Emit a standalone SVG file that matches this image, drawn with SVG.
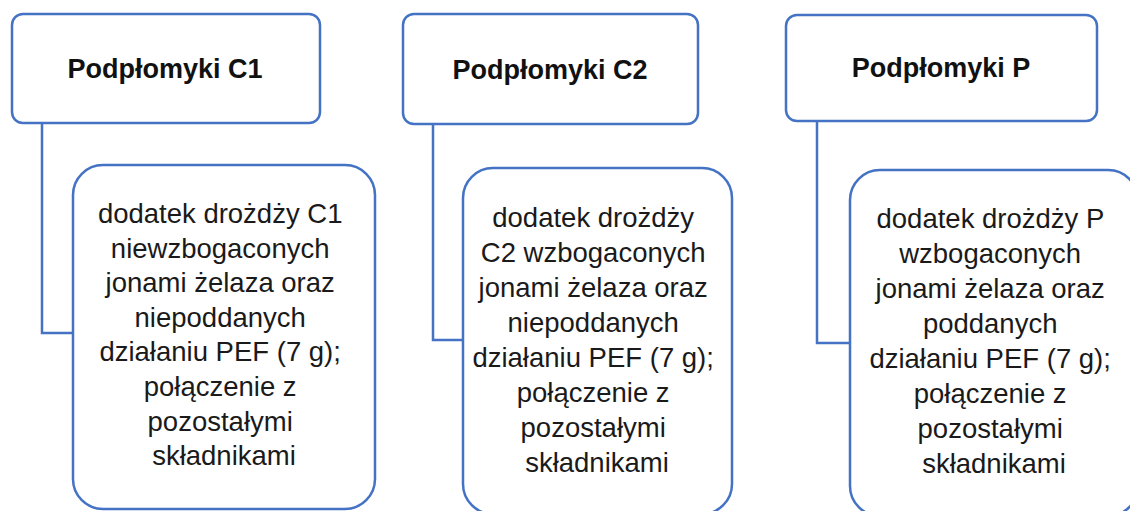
<svg xmlns="http://www.w3.org/2000/svg" width="1130" height="511" viewBox="0 0 1130 511">
<style>
.box{fill:#fff;stroke:#4472C4;stroke-width:2.5}
.conn{fill:none;stroke:#4472C4;stroke-width:2.5}
.title{font-family:"Liberation Sans",Arial,sans-serif;font-weight:bold;font-size:27px;fill:#111;text-anchor:middle}
.body{font-family:"Liberation Sans",Arial,sans-serif;font-size:27.5px;fill:#1a1a1a;text-anchor:middle}
</style>
<rect width="1130" height="511" fill="#fff"/>
<g id="connectors">
<path class="conn" d="M42,123 V333 H73"/>
<path class="conn" d="M433,124 V340 H463"/>
<path class="conn" d="M817,121 V343 H850"/>
</g>
<g id="node-c1">
<rect class="box" x="12" y="14" width="308" height="109" rx="11"/>
<text class="title" x="165" y="78">Podpłomyki C1</text>
</g>
<g id="node-c2">
<rect class="box" x="403" y="14" width="295" height="110" rx="11"/>
<text class="title" x="550" y="79">Podpłomyki C2</text>
</g>
<g id="node-p">
<rect class="box" x="786" y="15" width="311" height="106" rx="11"/>
<text class="title" x="941" y="77">Podpłomyki P</text>
</g>
<g id="node-c1-desc">
<rect class="box" x="73" y="165" width="302" height="344" rx="30"/>
<text class="body" x="224">
<tspan x="224" y="223">dodatek drożdży C1</tspan>
<tspan x="224" y="257.6">niewzbogaconych</tspan>
<tspan x="224" y="292.2">jonami żelaza oraz</tspan>
<tspan x="224" y="326.8">niepoddanych</tspan>
<tspan x="224" y="361.4">działaniu PEF (7 g);</tspan>
<tspan x="224" y="396">połączenie z</tspan>
<tspan x="224" y="430.6">pozostałymi</tspan>
<tspan x="224" y="465.2">składnikami</tspan>
</text>
</g>
<g id="node-c2-desc">
<rect class="box" x="463" y="168" width="269" height="346" rx="30"/>
<text class="body" x="597">
<tspan x="597" y="227">dodatek drożdży</tspan>
<tspan x="597" y="262">C2 wzbogaconych</tspan>
<tspan x="597" y="297">jonami żelaza oraz</tspan>
<tspan x="597" y="332">niepoddanych</tspan>
<tspan x="597" y="367">działaniu PEF (7 g);</tspan>
<tspan x="597" y="402">połączenie z</tspan>
<tspan x="597" y="437">pozostałymi</tspan>
<tspan x="597" y="472">składnikami</tspan>
</text>
</g>
<g id="node-p-desc">
<rect class="box" x="850" y="170" width="288" height="346" rx="30"/>
<text class="body" x="994">
<tspan x="994" y="228">dodatek drożdży P</tspan>
<tspan x="994" y="263">wzbogaconych</tspan>
<tspan x="994" y="298">jonami żelaza oraz</tspan>
<tspan x="994" y="333">poddanych</tspan>
<tspan x="994" y="368">działaniu PEF (7 g);</tspan>
<tspan x="994" y="403">połączenie z</tspan>
<tspan x="994" y="438">pozostałymi</tspan>
<tspan x="994" y="473">składnikami</tspan>
</text>
</g>
</svg>
